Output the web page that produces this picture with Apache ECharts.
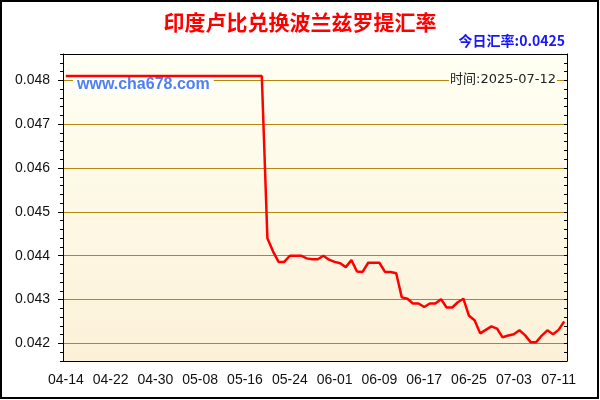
<!DOCTYPE html>
<html>
<head>
<meta charset="utf-8">
<script src="https://cdn.jsdelivr.net/npm/echarts@6/dist/echarts.min.js"></script>
<style>
html, body { margin: 0; padding: 0; background: #fff; }
#chart { width: 600px; height: 400px; }
</style>
</head>
<body>
<div id="chart"></div>
<script>
var chartTitle = '印度卢比兑换波兰兹罗提汇率';
var year = '2025';

var dates = [
  '04-14','04-15','04-16','04-17','04-18','04-19','04-20','04-21','04-22','04-23',
  '04-24','04-25','04-26','04-27','04-28','04-29','04-30',
  '05-01','05-02','05-03','05-04','05-05','05-06','05-07','05-08','05-09','05-10',
  '05-11','05-12','05-13','05-14','05-15','05-16','05-17','05-18','05-19','05-20',
  '05-21','05-22','05-23','05-24','05-25','05-26','05-27','05-28','05-29','05-30','05-31',
  '06-01','06-02','06-03','06-04','06-05','06-06','06-07','06-08','06-09','06-10',
  '06-11','06-12','06-13','06-14','06-15','06-16','06-17','06-18','06-19','06-20',
  '06-21','06-22','06-23','06-24','06-25','06-26','06-27','06-28','06-29','06-30',
  '07-01','07-02','07-03','07-04','07-05','07-06','07-07','07-08','07-09','07-10',
  '07-11','07-12'
];

var rates = [
  0.0481, 0.0481, 0.0481, 0.0481, 0.0481, 0.0481, 0.0481, 0.0481, 0.0481, 0.0481,
  0.0481, 0.0481, 0.0481, 0.0481, 0.0481, 0.0481, 0.0481, 0.0481, 0.0481, 0.0481,
  0.0481, 0.0481, 0.0481, 0.0481, 0.0481, 0.0481, 0.0481, 0.0481, 0.0481, 0.0481,
  0.0481, 0.0481, 0.0481, 0.0481, 0.0481, 0.0481,
  0.0444, 0.0441, 0.04386, 0.04386, 0.0440, 0.0440, 0.0440, 0.04394, 0.04392, 0.04392,
  0.0440, 0.04391, 0.04386, 0.04383, 0.04374, 0.0439, 0.04364, 0.04363, 0.04384, 0.04384,
  0.04384, 0.04363, 0.04363, 0.0436, 0.04305, 0.04302, 0.04291, 0.04291, 0.04283, 0.04291,
  0.04291, 0.04301, 0.04282, 0.04282, 0.04294, 0.04302, 0.04263, 0.04253, 0.04223, 0.04231,
  0.04239, 0.04234, 0.04214, 0.04218, 0.04221, 0.0423, 0.04219, 0.04203, 0.04203, 0.04218,
  0.0423, 0.04221, 0.04231, 0.0425
];

var yMin = 0.0416;
var yMax = 0.0486;

var gold = '#b8860b';
var numFont = 'Liberation Sans';
var cjkFont = 'Noto Sans CJK SC';

var chart = echarts.init(document.getElementById('chart'));

var tickStyle = { color: '#000', width: 1 };

var option = {
  animation: false,
  backgroundColor: '#fff',
  title: {
    text: chartTitle,
    left: 'center',
    top: 7,
    textStyle: { color: '#ff0000', fontSize: 21, fontWeight: 'bold', fontFamily: cjkFont }
  },
  grid: {
    left: 63, right: 33, top: 54, bottom: 39,
    show: true,
    borderWidth: 0,
    backgroundColor: new echarts.graphic.LinearGradient(0, 0, 0, 1, [
      { offset: 0, color: '#fffff3' },
      { offset: 1, color: '#fcf1d8' }
    ])
  },
  xAxis: [
    {
      type: 'category', data: dates, boundaryGap: true, position: 'bottom', z: 5,
      axisLine: { onZero: false, lineStyle: { color: '#000' } },
      axisTick: { alignWithLabel: true, interval: 0, inside: true, length: 3, lineStyle: tickStyle },
      axisLabel: { interval: 7, margin: 12, fontSize: 14, color: '#111', fontFamily: numFont },
      splitLine: { show: false }
    },
    {
      type: 'category', data: dates, boundaryGap: true, position: 'bottom', z: 5,
      axisLine: { show: false, onZero: false },
      axisTick: { alignWithLabel: true, interval: 3, inside: true, length: 6, lineStyle: tickStyle },
      axisLabel: { show: false },
      splitLine: { show: false }
    },
    {
      type: 'category', data: dates, boundaryGap: true, position: 'top', z: 5,
      axisLine: { onZero: false, lineStyle: { color: '#000' } },
      axisTick: { alignWithLabel: true, interval: 0, inside: true, length: 3, lineStyle: tickStyle },
      axisLabel: { show: false },
      splitLine: { show: false }
    }
  ],
  yAxis: [
    {
      type: 'value', position: 'left', min: yMin, max: yMax, splitNumber: 7, z: 4,
      axisLine: { show: true, lineStyle: { color: '#000' } },
      axisTick: { show: true, length: 5, lineStyle: tickStyle },
      axisLabel: {
        showMinLabel: false, showMaxLabel: false, margin: 13,
        fontSize: 14, color: '#111', fontFamily: numFont,
        formatter: function (v) { return v.toFixed(3); }
      },
      splitLine: { show: true, lineStyle: { color: gold, width: 1 } }
    },
    {
      type: 'value', position: 'left', min: yMin, max: yMax, interval: 0.0002, z: 4,
      axisLine: { show: false },
      axisTick: { show: true, length: 3, lineStyle: tickStyle },
      axisLabel: { show: false },
      splitLine: { show: false }
    },
    {
      type: 'value', position: 'right', min: yMin, max: yMax, interval: 0.0002, z: 5,
      axisLine: { show: true, lineStyle: { color: '#000' } },
      axisTick: { show: true, inside: true, length: 3, lineStyle: tickStyle },
      axisLabel: { show: false },
      splitLine: { show: false }
    }
  ],
  series: [
    {
      type: 'line',
      xAxisIndex: 0,
      yAxisIndex: 0,
      data: rates,
      symbol: 'none',
      z: 10,
      lineStyle: { color: '#ff0000', width: 2.5 }
    }
  ],
  graphic: [
    {
      type: 'text', right: 35, top: 34, z: 5,
      style: {
        text: '今日汇率:' + rates[rates.length - 1],
        fill: '#1515ff', fontSize: 14, fontWeight: 'bold', fontFamily: cjkFont
      }
    },
    {
      type: 'text', left: 73, top: 76, z: 5,
      style: {
        text: 'www.cha678.com',
        fill: '#4f80f2', fontSize: 16, fontWeight: 'bold', fontFamily: numFont,
        backgroundColor: '#ffffff', padding: [1, 4], lineHeight: 16
      }
    },
    {
      type: 'text', right: 43, top: 73, z: 5,
      style: {
        text: '时间:' + year + '-' + dates[dates.length - 1],
        fill: '#222', fontSize: 13, fontFamily: 'DejaVu Sans, Noto Sans CJK SC',
        backgroundColor: '#fffff3', padding: [0, 1]
      }
    },
    {
      type: 'rect', z: 20, silent: true,
      shape: { x: 1, y: 1, width: 597, height: 397 },
      style: { fill: 'none', stroke: '#000', lineWidth: 2 }
    }
  ]
};

chart.setOption(option);
</script>
</body>
</html>
